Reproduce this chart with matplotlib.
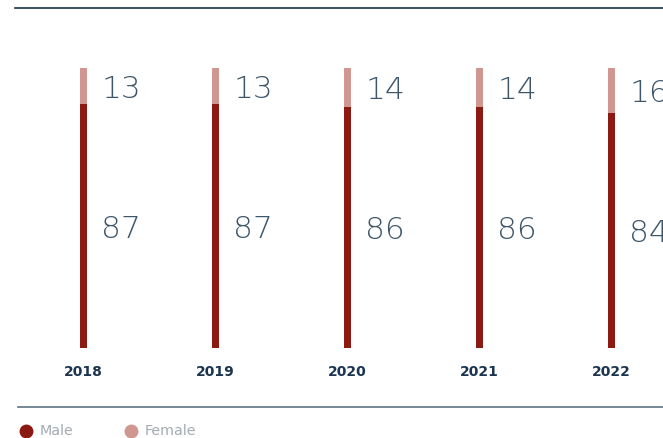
import matplotlib
matplotlib.use("Agg")
import matplotlib.pyplot as plt
from matplotlib.lines import Line2D

years = ["2018", "2019", "2020", "2021", "2022"]
male = [87, 87, 86, 86, 84]
female = [13, 13, 14, 14, 16]

male_color = "#8b1a12"
female_color = "#d09690"
num_color = "#3e566a"
year_color = "#1b3550"

W, H = 663, 438
fig = plt.figure(figsize=(W / 100, H / 100), dpi=100)
ax = fig.add_axes([0, 0, 1, 1])
ax.set_xlim(-83 / 132, (W - 83) / 132)
ax.set_ylim(-(H - 348) / 280 * 100, 100 + 68 / 280 * 100)
ax.axis("off")

x = list(range(len(years)))
bw = 7 / 132
ax.bar(x, male, width=bw, color=male_color)
ax.bar(x, female, width=bw, bottom=male, color=female_color)

num_font = dict(fontsize=22.5, fontfamily="DejaVu Sans", fontweight=200,
                color=num_color, va="center_baseline", ha="left")
for i in x:
    ax.text(i + 0.14, male[i] / 2, str(male[i]), **num_font)
    ax.text(i + 0.14, male[i] + female[i] / 2, str(female[i]), **num_font)
    ax.text(i, -8.6, years[i], fontsize=10, fontweight="bold", fontfamily="DejaVu Sans",
            color=year_color, ha="center", va="center")

# frame lines
fig.add_artist(Line2D([15 / W, 1], [1 - 8 / H, 1 - 8 / H], color="#17344e", lw=1.2))
fig.add_artist(Line2D([18 / W, 1], [1 - 407 / H, 1 - 407 / H], color="#5d7384", lw=1.2))

# legend
ly = 1 - 431 / H
fig.add_artist(Line2D([26 / W], [ly], marker="o", markersize=9, color=male_color, lw=0))
fig.text(40 / W, ly, "Male", fontsize=10.3, color="#a4abb2", va="center", ha="left")
fig.add_artist(Line2D([131 / W], [ly], marker="o", markersize=9, color=female_color, lw=0))
fig.text(145 / W, ly, "Female", fontsize=10.3, color="#a4abb2", va="center", ha="left")

fig.savefig("out.png", dpi=100)
